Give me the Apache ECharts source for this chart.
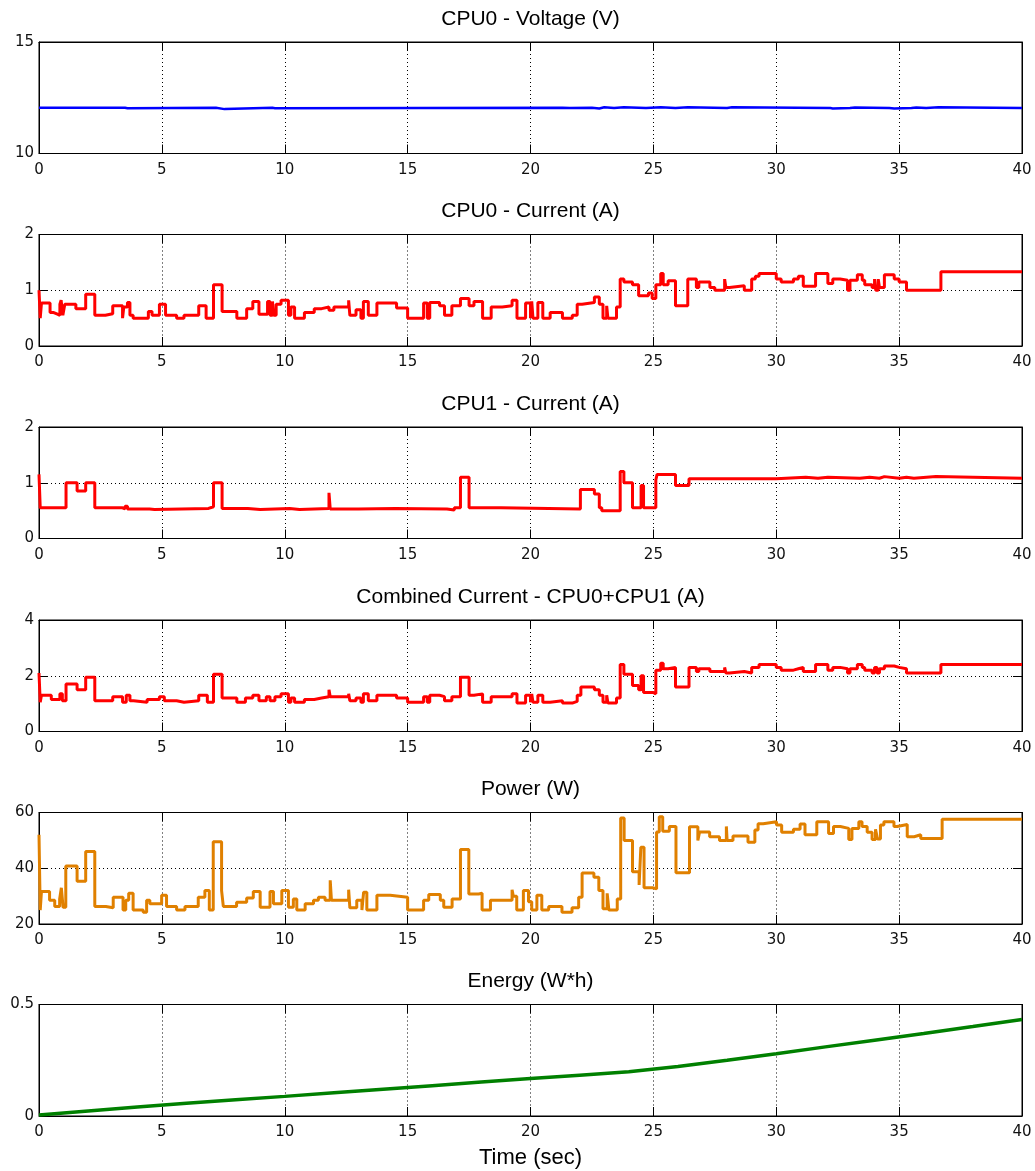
<!DOCTYPE html>
<html>
<head>
<meta charset="utf-8">
<script src="https://cdn.jsdelivr.net/npm/echarts@6/dist/echarts.min.js"></script>
<style>
  html, body { margin: 0; padding: 0; background: #fff; }
  #chart { width: 1035px; height: 1171px; }
</style>
</head>
<body>
<div id="chart"></div>
<script>
// step data: [time (s), value] -> value holds until the next time
const voltage = [
  [0, 12.05], [3.5, 12.03], [3.6, 12.05], [7.2, 11.99], [7.55, 12.05], [9.5, 12.03], [9.6, 12.05],
  [21.3, 12.04], [21.6, 12.05], [22.5, 12.02], [22.8, 12.07], [23.0, 12.04], [23.4, 12.07], [23.8, 12.04],
  [24.7, 12.07], [25.3, 12.04], [25.9, 12.07], [26.4, 12.04], [28.0, 12.07], [28.2, 12.04], [32.2, 12.02],
  [32.3, 12.04], [33.0, 12.06], [33.2, 12.04], [34.6, 12.02], [34.8, 12.04], [35.5, 12.06], [35.7, 12.04],
  [36.1, 12.07], [36.6, 12.04], [40, 12.04]
];

const cpu0Current = [
  [0, 1.0], [0.05, 0.5], [0.1, 0.77], [0.45, 0.6], [0.6, 0.57], [0.75, 0.55], [0.85, 0.75], [0.9, 0.82],
  [0.97, 0.55], [1.05, 0.75], [1.5, 0.67], [1.9, 0.93], [2.27, 0.55], [2.7, 0.58], [3.0, 0.72], [3.4, 0.5],
  [3.45, 0.7], [3.6, 0.78], [3.7, 0.55], [3.83, 0.5], [4.45, 0.62], [4.6, 0.55], [4.9, 0.75], [5.15, 0.55],
  [5.6, 0.5], [5.9, 0.55], [6.5, 0.72], [6.8, 0.5], [7.1, 1.1], [7.45, 0.62], [8.05, 0.5], [8.45, 0.67],
  [8.7, 0.8], [8.95, 0.57], [9.3, 0.8], [9.4, 0.55], [9.5, 0.8], [9.55, 0.55], [9.65, 0.75], [9.85, 0.82],
  [10.15, 0.55], [10.25, 0.7], [10.4, 0.5], [10.8, 0.6], [11.2, 0.67], [11.5, 0.7], [11.8, 0.64], [12.0, 0.7],
  [12.6, 0.82], [12.65, 0.55], [12.9, 0.65], [13.1, 0.5], [13.2, 0.8], [13.4, 0.55], [13.75, 0.77],
  [14.55, 0.68], [15.0, 0.5], [15.65, 0.77], [15.8, 0.5], [15.9, 0.78], [16.3, 0.72], [16.5, 0.55],
  [16.8, 0.72], [17.15, 0.85], [17.5, 0.72], [17.7, 0.8], [18.05, 0.5], [18.4, 0.7], [18.85, 0.72],
  [19.25, 0.82], [19.45, 0.5], [19.8, 0.77], [20.0, 0.5], [20.05, 0.8], [20.1, 0.5], [20.3, 0.78],
  [20.5, 0.5], [20.8, 0.6], [21.3, 0.5], [21.7, 0.55], [21.9, 0.75], [22.1, 0.78], [22.6, 0.88],
  [22.8, 0.75], [22.95, 0.5], [23.1, 0.72], [23.15, 0.5], [23.5, 0.7], [23.65, 1.2], [23.8, 1.15],
  [24.15, 1.1], [24.4, 0.9], [24.8, 0.95], [24.95, 0.85], [25.1, 1.1], [25.3, 1.3], [25.4, 1.1],
  [25.6, 1.17], [25.9, 0.72], [26.4, 1.2], [26.75, 1.05], [26.85, 1.15], [27.3, 1.05], [27.5, 1.0],
  [27.9, 1.2], [27.95, 1.05], [28.1, 1.08], [28.7, 1.0], [29.0, 1.2], [29.15, 1.25], [29.3, 1.3],
  [30.0, 1.2], [30.2, 1.15], [30.7, 1.2], [30.9, 1.25], [31.1, 1.07], [31.6, 1.3], [32.1, 1.12],
  [32.3, 1.2], [32.6, 1.18], [32.9, 1.0], [33.0, 1.18], [33.3, 1.28], [33.5, 1.18], [33.6, 1.1],
  [33.9, 1.05], [34.0, 1.2], [34.05, 1.0], [34.15, 1.2], [34.2, 1.05], [34.4, 1.28], [34.8, 1.2],
  [35.0, 1.15], [35.3, 1.0], [36.7, 1.33], [40, 1.33]
];

const cpu1Current = [
  [0, 1.15], [0.05, 0.55], [1.1, 1.0], [1.55, 0.85], [1.9, 1.0], [2.27, 0.55], [3.4, 0.53], [3.5, 0.58],
  [3.6, 0.53], [4.5, 0.52], [4.7, 0.54], [6.9, 0.57], [7.1, 1.0], [7.45, 0.54], [8.5, 0.52], [9.0, 0.54],
  [10.2, 0.52], [10.6, 0.54], [11.8, 0.82], [11.85, 0.53], [13.0, 0.54], [14.5, 0.53], [16.6, 0.51],
  [16.9, 0.55], [17.15, 1.1], [17.5, 0.55], [18.8, 0.53], [22.03, 0.88], [22.6, 0.8], [22.8, 0.55],
  [22.9, 0.5], [23.65, 1.2], [23.8, 1.0], [24.15, 0.55], [24.5, 0.95], [24.6, 0.55], [25.1, 1.05],
  [25.15, 1.15], [25.9, 0.95], [26.45, 1.07], [30.0, 1.09], [30.8, 1.1], [31.2, 1.08], [31.7, 1.1],
  [32.1, 1.08], [33.4, 1.1], [33.8, 1.08], [34.2, 1.11], [34.4, 1.08], [35.0, 1.1], [35.3, 1.08],
  [35.6, 1.11], [36.5, 1.08], [40, 1.08]
];

const combinedCurrent = [
  [0, 2.1], [0.05, 1.05], [0.1, 1.3], [0.5, 1.15], [0.85, 1.35], [0.95, 1.1], [1.1, 1.7], [1.55, 1.5],
  [1.9, 1.95], [2.27, 1.1], [3.0, 1.25], [3.4, 1.05], [3.55, 1.3], [3.7, 1.1], [3.85, 1.05], [4.4, 1.15],
  [4.9, 1.25], [5.1, 1.1], [5.6, 1.05], [5.9, 1.1], [6.5, 1.3], [6.85, 1.05], [7.1, 2.05], [7.45, 1.2],
  [8.05, 1.05], [8.4, 1.2], [8.7, 1.3], [8.95, 1.1], [9.25, 1.25], [9.4, 1.1], [9.6, 1.25], [9.85, 1.35],
  [10.15, 1.05], [10.25, 1.2], [10.4, 1.05], [10.8, 1.15], [11.2, 1.2], [11.5, 1.25], [11.8, 1.5],
  [11.85, 1.25], [12.6, 1.35], [12.65, 1.1], [12.9, 1.2], [13.1, 1.05], [13.2, 1.35], [13.4, 1.1],
  [13.75, 1.3], [14.55, 1.2], [15.0, 1.05], [15.65, 1.25], [15.8, 1.05], [15.9, 1.3], [16.3, 1.25],
  [16.5, 1.1], [16.8, 1.25], [17.15, 1.95], [17.5, 1.3], [17.7, 1.35], [18.05, 1.05], [18.4, 1.25],
  [19.25, 1.35], [19.45, 1.02], [19.8, 1.3], [20.0, 1.05], [20.05, 1.35], [20.1, 1.05], [20.3, 1.3],
  [20.5, 1.05], [20.8, 1.1], [21.3, 1.02], [21.7, 1.08], [21.9, 1.3], [22.05, 1.6], [22.6, 1.5],
  [22.8, 1.3], [22.95, 1.05], [23.1, 1.3], [23.15, 1.02], [23.5, 1.2], [23.65, 2.4], [23.8, 2.05],
  [24.15, 1.65], [24.4, 1.5], [24.5, 2.0], [24.6, 1.4], [25.0, 1.35], [25.1, 2.2], [25.3, 2.45],
  [25.4, 2.25], [25.6, 2.3], [25.9, 1.6], [26.45, 2.3], [26.75, 2.15], [26.85, 2.25], [27.3, 2.15],
  [27.9, 2.3], [27.95, 2.1], [28.1, 2.15], [28.7, 2.1], [29.0, 2.3], [29.3, 2.4], [30.0, 2.3],
  [30.2, 2.2], [30.7, 2.25], [30.9, 2.3], [31.1, 2.15], [31.6, 2.4], [32.1, 2.2], [32.3, 2.3],
  [32.6, 2.25], [32.9, 2.1], [33.0, 2.25], [33.3, 2.4], [33.5, 2.3], [33.6, 2.2], [33.9, 2.1],
  [34.0, 2.3], [34.1, 2.1], [34.2, 2.25], [34.4, 2.35], [34.8, 2.3], [35.0, 2.25], [35.3, 2.1],
  [36.7, 2.4], [40, 2.4]
];

const power = [
  [0, 52], [0.05, 25], [0.1, 31.7], [0.43, 28.5], [0.64, 26.3], [0.84, 29], [0.91, 33], [0.98, 26],
  [1.09, 40.8], [1.55, 35.3], [1.9, 46], [2.27, 26.3], [2.72, 25.8], [3.02, 29.6], [3.42, 25], [3.53, 28.5],
  [3.65, 31], [3.83, 25], [4.24, 24.2], [4.38, 28.5], [4.51, 27.3], [4.99, 30.3], [5.19, 26.3], [5.6, 25],
  [5.94, 26.3], [6.48, 29.6], [6.75, 32], [6.93, 25], [7.09, 49.5], [7.43, 32], [7.5, 26.3], [8.04, 27.8],
  [8.45, 29.3], [8.72, 31.7], [9.0, 26], [9.4, 31.7], [9.54, 27.3], [9.88, 32], [10.15, 26], [10.35, 29],
  [10.49, 25], [10.83, 27.3], [11.17, 28.5], [11.37, 29.6], [11.64, 28.5], [11.85, 35.7], [11.9, 28.5],
  [12.6, 32.3], [12.65, 25.8], [12.93, 28.5], [13.14, 25], [13.21, 31.4], [13.34, 25], [13.75, 30.3],
  [14.29, 29.6], [15.0, 25], [15.65, 28.5], [15.86, 30.6], [16.33, 28.5], [16.47, 26], [16.81, 29],
  [17.15, 46.7], [17.49, 30.8], [17.89, 31], [18.03, 25], [18.37, 28.5], [19.25, 32.3], [19.3, 30],
  [19.44, 25], [19.71, 32], [19.92, 28], [20.05, 25], [20.26, 30.3], [20.46, 25], [20.74, 26.3],
  [21.28, 24.2], [21.69, 25.8], [21.96, 29.6], [22.1, 38.3], [22.58, 36.8], [22.78, 32], [22.95, 25.5],
  [23.12, 31], [23.19, 25], [23.53, 29], [23.67, 58], [23.81, 50], [24.15, 38.7], [24.42, 34],
  [24.49, 47.5], [24.62, 33], [24.97, 32.6], [25.13, 53], [25.24, 58.5], [25.38, 53.3], [25.65, 55],
  [25.92, 38.4], [26.47, 54.9], [26.81, 50], [26.88, 53], [27.29, 51.3], [27.69, 50], [27.97, 55],
  [28.0, 50], [28.24, 51.6], [28.85, 49.3], [29.13, 53.7], [29.26, 56], [29.47, 56.7], [30.01, 55.5],
  [30.22, 52.9], [30.7, 54], [30.97, 55.9], [31.17, 52], [31.65, 56.7], [32.13, 52.5], [32.33, 55],
  [32.61, 54.3], [32.95, 50.3], [33.08, 54.3], [33.36, 56.7], [33.49, 55], [33.7, 52.9], [33.9, 50.3],
  [34.04, 54], [34.12, 50.5], [34.24, 55.5], [34.38, 56.7], [34.79, 55], [34.92, 55.7], [35.33, 51.3],
  [35.61, 52], [35.88, 50.7], [36.75, 57.6], [40, 57.6]
];

const energy = [
  [0, 0.004], [2, 0.022], [4, 0.04], [6, 0.057], [8, 0.073], [10, 0.088], [12, 0.104],
  [14, 0.12], [16, 0.136], [18, 0.152], [20, 0.168], [22, 0.183], [24, 0.198], [26, 0.222], [28, 0.25],
  [30, 0.279], [32, 0.31], [34, 0.34], [36, 0.37], [38, 0.401], [40, 0.433]
];

const panelTitles = [
  'CPU0 - Voltage (V)', 'CPU0 - Current (A)', 'CPU1 - Current (A)',
  'Combined Current - CPU0+CPU1 (A)', 'Power (W)', 'Energy (W*h)'
];
const yMin = [10, 0, 0, 0, 20, 0];
const yMax = [15, 2, 2, 4, 60, 0.5];
const yStep = [5, 1, 1, 2, 20, 0.5];
const lineColors = ['#0000ff', '#ff0000', '#ff0000', '#ff0000', '#e08000', '#008000'];
const seriesData = [voltage, cpu0Current, cpu1Current, combinedCurrent, power, energy];

const tops = [42, 234.5, 427, 620, 812.5, 1004.5];
const plotH = 111.5;
const LEFT = 39, RIGHT = 13;
const TICK_FONT = 'DejaVu Sans';
const TITLE_FONT = 'Liberation Sans';

let chart = echarts.init(document.getElementById('chart'));

let grids = [], xAxes = [], yAxes = [], series = [], graphics = [];

for (let i = 0; i < 6; i++) {
  grids.push({
    left: LEFT, right: RIGHT, top: tops[i], height: plotH,
    show: true, borderColor: '#000', borderWidth: 1, backgroundColor: '#fff'
  });

  let tick = { inside: true, length: 9, lineStyle: { color: '#000', width: 1 } };
  let axLine = { show: true, onZero: false, lineStyle: { color: '#000', width: 1 } };
  let dotted = { show: true, lineStyle: { color: '#000', width: 1, type: [1, 3] } };

  let bottomX = {
    type: 'value', gridIndex: i, position: 'bottom', min: 0, max: 40, interval: 5,
    axisLine: axLine, axisTick: tick, splitLine: dotted,
    axisLabel: { color: '#111', fontSize: 15, fontFamily: TICK_FONT, margin: 9 }
  };
  if (i === 5) {
    bottomX.name = 'Time (sec)';
    bottomX.nameLocation = 'middle';
    bottomX.nameGap = 31;
    bottomX.nameTextStyle = { color: '#000', fontSize: 22, fontFamily: TITLE_FONT, verticalAlign: 'top' };
  }
  xAxes.push(bottomX);
  xAxes.push({
    type: 'value', gridIndex: i, position: 'top', min: 0, max: 40, interval: 5,
    axisLine: axLine, axisTick: tick, splitLine: { show: false }, axisLabel: { show: false }
  });

  yAxes.push({
    type: 'value', gridIndex: i, position: 'left', min: yMin[i], max: yMax[i], interval: yStep[i],
    axisLine: axLine, axisTick: tick, splitLine: dotted,
    axisLabel: { color: '#111', fontSize: 15, fontFamily: TICK_FONT, margin: 5 }
  });
  yAxes.push({
    type: 'value', gridIndex: i, position: 'right', min: yMin[i], max: yMax[i], interval: yStep[i],
    axisLine: axLine, axisTick: tick, splitLine: { show: false }, axisLabel: { show: false }
  });

  series.push({
    type: 'line', name: panelTitles[i],
    xAxisIndex: i * 2, yAxisIndex: i * 2,
    data: seriesData[i],
    step: i === 5 ? false : 'end',
    showSymbol: false, symbol: 'none',
    lineStyle: { color: lineColors[i], width: i === 0 ? 2.5 : (i === 5 ? 3.5 : 3) },
    z: 3
  });

  graphics.push({
    type: 'text', x: LEFT + (1035 - LEFT - RIGHT) / 2, y: tops[i] - 23,
    style: {
      text: panelTitles[i], fill: '#000', font: '21px ' + TITLE_FONT,
      textAlign: 'center', textVerticalAlign: 'middle'
    }
  });
}

chart.setOption({
  animation: false,
  backgroundColor: '#fff',
  grid: grids,
  xAxis: xAxes,
  yAxis: yAxes,
  series: series,
  graphic: graphics
});
</script>
</body>
</html>
